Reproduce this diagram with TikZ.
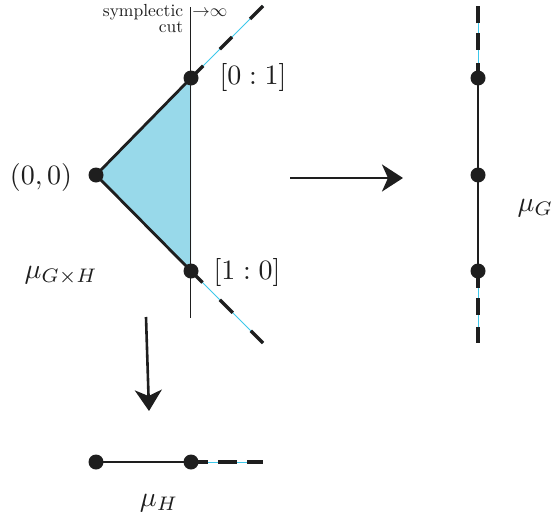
\documentclass[tikz,border=0pt]{standalone}
\usetikzlibrary{arrows.meta,calc}
\definecolor{fillblue}{RGB}{152,217,234}
\definecolor{raycyan}{RGB}{60,200,235}
\definecolor{ink}{RGB}{30,30,30}
\begin{document}
\begin{tikzpicture}[x=1pt,y=-1pt,
  dot/.style={circle,fill=ink,inner sep=0pt,minimum size=15pt},
  edge/.style={ink,line width=2.8pt},
  thinray/.style={raycyan,line width=1pt},
  blackseg/.style={ink,line width=3.2pt},
  cutline/.style={ink,line width=0.9pt},
  bigarrow/.style={ink,line width=2.6pt,-{Stealth[length=21pt,width=27pt,inset=6pt]}},
  biglabel/.style={ink,scale=2.8,inner sep=0pt},
  smalllabel/.style={ink,scale=1.75,inner sep=0pt}]
\useasboundingbox (0,0) rectangle (551,525);

% main triangle
\coordinate (O) at (96,175);
\coordinate (P) at (191,78);
\coordinate (Q) at (191,271);
\fill[fillblue] (O) -- (P) -- (Q) -- cycle;

% symplectic cut line
\coordinate (cutT) at (190.5,7);
\coordinate (cutB) at (190.5,318);
\draw[cutline] (cutT) -- (cutB);

% edges
\draw[edge] (O) -- (P);
\draw[edge] (O) -- (Q);

% upper ray
\coordinate (PE) at (263,6);
\draw[thinray] (P) -- (PE);
\draw[blackseg] (P) -- ($(P)!0.17!(PE)$);
\draw[blackseg] ($(P)!0.40!(PE)$) -- ($(P)!0.57!(PE)$);
\draw[blackseg] ($(P)!0.82!(PE)$) -- (PE);

% lower ray
\coordinate (QE) at (263,343);
\draw[thinray] (Q) -- (QE);
\draw[blackseg] (Q) -- ($(Q)!0.16!(QE)$);
\draw[blackseg] ($(Q)!0.40!(QE)$) -- ($(Q)!0.58!(QE)$);
\draw[blackseg] ($(Q)!0.83!(QE)$) -- (QE);

% dots
\node[dot] (o) at (O) {};
\node[dot] (p) at (P) {};
\node[dot] (q) at (Q) {};

% labels
\node[biglabel] (lo) at (41,177) {$(0,0)$};
\node[biglabel] (lp) at (253,77) {$[0:1]$};
\node[biglabel] (lq) at (247,272) {$[1:0]$};
\node[biglabel,anchor=base west] (lgh) at (24,278) {$\mu_{G\times H}$};
\node[smalllabel,anchor=base east] (sy) at (183.5,16) {symplectic};
\node[smalllabel,anchor=base east] (cu) at (183.5,32) {cut};
\node[smalllabel,anchor=base west] (inf) at (192,16) {${\to}{\infty}$};

% arrows
\coordinate (a1s) at (290,178);
\coordinate (a1e) at (403,178);
\draw[bigarrow] (a1s) -- (a1e);
\coordinate (a2s) at (146,317);
\coordinate (a2e) at (149,411);
\draw[bigarrow] (a2s) -- (a2e);

% right: mu_G
\coordinate (R1) at (478,78);
\coordinate (R2) at (478,175);
\coordinate (R3) at (478,271);
\coordinate (RT) at (478,6);
\coordinate (RB) at (478,343);
\draw[edge] (R1) -- (R3);
\draw[thinray] (R1) -- (RT);
\draw[blackseg] (R1) -- ($(R1)!0.21!(RT)$);
\draw[blackseg] ($(R1)!0.39!(RT)$) -- ($(R1)!0.625!(RT)$);
\draw[blackseg] ($(R1)!0.76!(RT)$) -- (RT);
\draw[thinray] (R3) -- (RB);
\draw[blackseg] (R3) -- ($(R3)!0.24!(RB)$);
\draw[blackseg] ($(R3)!0.375!(RB)$) -- ($(R3)!0.61!(RB)$);
\draw[blackseg] ($(R3)!0.78!(RB)$) -- (RB);
\node[dot] (r1) at (R1) {};
\node[dot] (r2) at (R2) {};
\node[dot] (r3) at (R3) {};
\node[biglabel,anchor=base west] (lg) at (517,211) {$\mu_G$};

% bottom: mu_H
\coordinate (B1) at (96,462);
\coordinate (B2) at (191,462);
\coordinate (BE) at (263,462);
\draw[edge] (B1) -- (B2);
\draw[thinray] (B2) -- (BE);
\draw[blackseg] (B2) -- ($(B2)!0.24!(BE)$);
\draw[blackseg] ($(B2)!0.375!(BE)$) -- ($(B2)!0.64!(BE)$);
\draw[blackseg] ($(B2)!0.78!(BE)$) -- (BE);
\node[dot] (b1) at (B1) {};
\node[dot] (b2) at (B2) {};
\node[biglabel] (lh) at (159,503) {$\mu_H$};
\end{tikzpicture}
\end{document}
